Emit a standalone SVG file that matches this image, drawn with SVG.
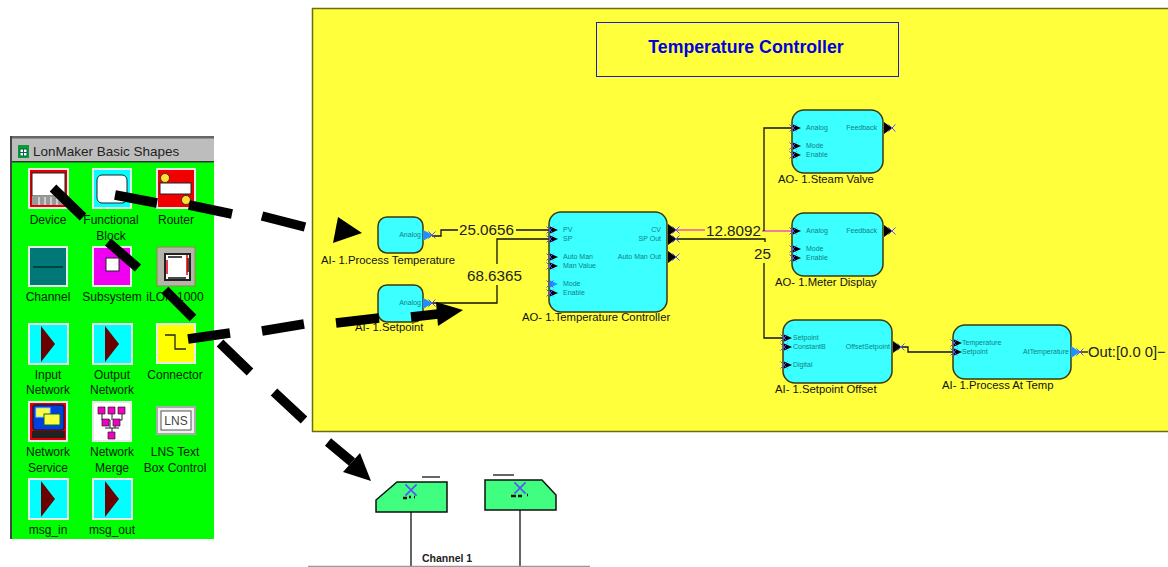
<svg xmlns="http://www.w3.org/2000/svg" xmlns:xlink="http://www.w3.org/1999/xlink" width="1168" height="567" viewBox="0 0 1168 567">
<style>
text{font-family:"Liberation Sans",Arial,sans-serif}
.pal{font-size:12px;fill:#062006;text-anchor:middle}
.fb{fill:#3cffff;stroke:#3a3a10;stroke-width:1.5}
.cap{font-size:11.300px;fill:#111}
.p{font-size:7px;fill:#0d7f86}
.pr{font-size:7px;fill:#0d7f86;text-anchor:end}
.val{font-size:15.200px;fill:#222}
.w{fill:none;stroke:#111;stroke-width:1.3}
.pk{fill:none;stroke:#f050c0;stroke-width:1.3}
.d{fill:none;stroke:#000;stroke-width:9.5}
.ic{stroke:#e8e8e8;stroke-width:2}
.x{fill:none;stroke:#5a50ff;stroke-width:1}
.dev{fill:#40ff80;stroke:#111;stroke-width:1.5}
.tri{fill:#6b0000}
</style>
<defs>
<g id="xm"><path class="x" d="M-3.500-3.500 3.500 3.500M3.500-3.500-3.500 3.500"/></g>
<g id="inp"><path d="M0-3.500 8 0 0 3.500z" fill="#000"/><use xlink:href="#xm"/></g>
<g id="inb"><path d="M0-3.500 8 0 0 3.500z" fill="#1e90ff"/><use xlink:href="#xm"/></g>
<g id="out"><path d="M-8-6 0 0-8 6z" fill="#000"/><use xlink:href="#xm"/></g>
<g id="outb"><path d="M-9-6 0 0-9 6z" fill="#1e90ff"/><use xlink:href="#xm"/></g>
<g id="net"><rect class="ic" x="0" y="0" width="39" height="40" fill="#00ffff"/><path class="tri" d="M12 2 26 20 12 38z"/></g>
</defs>

<g id="palette">
<rect x="10" y="136" width="204" height="403" fill="#fff"/>
<rect x="10" y="136" width="204" height="26" fill="#bdbdbd"/>
<rect x="10" y="136" width="204" height="2.500" fill="#666"/>
<rect x="12" y="162" width="202" height="377" fill="#00ff00"/>
<rect x="10" y="136" width="2" height="403" fill="#444"/>
<rect x="12" y="161" width="202" height="1.500" fill="#333"/>
<rect x="18" y="145" width="11" height="13" fill="#0a9a3a"/><path d="M20 149h7v7h-7zM23.500 149v7M20 152.500h7" fill="#fff" stroke="#064" stroke-width="1"/>
<text x="33" y="156" font-size="13.500" fill="#222">LonMaker Basic Shapes</text>
</g>

<g id="shape-device"><rect class="ic" x="29" y="169" width="39" height="39" fill="#e00000"/><rect x="32" y="173" width="33" height="23" fill="#fff" stroke="#222"/><rect x="32" y="196" width="33" height="9" fill="#999"/><path d="M39 197v8M45 197v8M51 197v8M57 197v8" stroke="#fff"/><text class="pal" x="48" y="224">Device</text></g>
<g id="shape-functional-block"><rect class="ic" x="93" y="169" width="38" height="39" fill="#00ffff"/><rect x="97" y="175" width="30" height="28" rx="5" fill="#fff" stroke="#222"/><text class="pal" x="111" y="224">Functional</text><text class="pal" x="111" y="240">Block</text></g>
<g id="shape-router"><rect class="ic" x="157" y="169" width="38" height="39" fill="#f00000"/><rect x="160" y="183" width="31" height="11" fill="#fff" stroke="#222"/><circle cx="165" cy="178" r="4.500" fill="#ffe030" stroke="#222" stroke-width=".8"/><circle cx="186" cy="200" r="4.500" fill="#ffe030" stroke="#222" stroke-width=".8"/><text class="pal" x="176" y="224">Router</text></g>
<g id="shape-channel"><rect class="ic" x="29" y="247" width="38" height="39" fill="#007878"/><path d="M33 267h30" stroke="#033" stroke-width="1.500"/><text class="pal" x="48" y="301">Channel</text></g>
<g id="shape-subsystem"><rect class="ic" x="93" y="247" width="38" height="39" fill="#f000f0"/><rect x="106" y="258" width="13" height="13" fill="#fff" stroke="#222"/><text class="pal" x="112" y="301">Subsystem</text></g>
<g id="shape-ilon"><rect x="157" y="247" width="38" height="39" fill="#b4b4a8" stroke="#8a8a50"/><rect x="165" y="254" width="25" height="26" fill="#fff" stroke="#222" stroke-width="2"/><path d="M168 257h14M188 258v14M168 278h18" stroke="#111" stroke-width="1.500"/><path d="M167 260v14M187 255v20" stroke="#e00000" stroke-width="1.500"/><text class="pal" x="175" y="301">iLON 1000</text></g>

<g id="shape-input-network"><use xlink:href="#net" x="29" y="324"/><text class="pal" x="48" y="379">Input</text><text class="pal" x="48" y="394">Network</text></g>
<g id="shape-output-network"><use xlink:href="#net" x="93" y="324"/><text class="pal" x="112" y="379">Output</text><text class="pal" x="112" y="394">Network</text></g>
<g id="shape-connector"><rect class="ic" x="157" y="324" width="38" height="39" fill="#ffff00"/><path d="M165 335h10v14h11" fill="none" stroke="#222" stroke-width="1.300"/><text class="pal" x="175" y="379">Connector</text></g>

<g id="shape-network-service"><rect class="ic" x="29" y="402" width="38" height="39" fill="#e00000"/><rect x="33" y="405" width="31" height="25" rx="2" fill="#0040e0" stroke="#111"/><rect x="36" y="408" width="14" height="9" fill="#ffff40" stroke="#9cf"/><rect x="44" y="414" width="16" height="11" fill="#ffff40" stroke="#063"/><rect x="32" y="431" width="33" height="7" fill="#222"/><text class="pal" x="48" y="456">Network</text><text class="pal" x="48" y="472">Service</text></g>
<g id="shape-network-merge"><rect class="ic" x="93" y="402" width="38" height="39" fill="#fff"/><path d="M102 412v8h8v8M112 412v8M122 412v8h-7v8M112 428v10M105 428h14" fill="none" stroke="#222"/><path d="M98 407h7v7h-7zM108 407h7v7h-7zM118 407h7v7h-7zM102 419h7v7h-7zM113 419h7v7h-7zM108 432h7v7h-7z" fill="#f000c0" stroke="#222" stroke-width=".7"/><text class="pal" x="112" y="456">Network</text><text class="pal" x="112" y="472">Merge</text></g>
<g id="shape-lns"><rect x="157" y="407" width="38" height="27" fill="#eee" stroke="#aaa" stroke-width="2"/><rect x="161" y="411" width="30" height="19" fill="#fff" stroke="#555"/><text x="176" y="425" font-size="12" fill="#444" text-anchor="middle">LNS</text><text class="pal" x="175" y="456">LNS Text</text><text class="pal" x="175" y="472">Box Control</text></g>
<g id="shape-msg-in"><use xlink:href="#net" x="29" y="479"/><text class="pal" x="48" y="534">msg_in</text></g>
<g id="shape-msg-out"><use xlink:href="#net" x="93" y="479"/><text class="pal" x="112" y="534">msg_out</text></g>

<g id="canvas">
<rect x="312.500" y="8.500" width="860" height="423" fill="#ffff3c" stroke="#6b6b10" stroke-width="1.500"/>
</g>
<g id="title"><rect x="596.500" y="22.500" width="302" height="54" fill="none" stroke="#1a1ad0"/><text x="746" y="53" font-size="17.700" font-weight="700" fill="#0000e0" text-anchor="middle">Temperature Controller</text></g>

<g id="connectors">
<path class="w" d="M432 236h9v-6h17M516 230h33"/>
<path class="w" d="M432 303h65v-18M497 264v-25h52"/>
<path class="pk" d="M677 230h28M762 231h30"/>
<path class="w" d="M677 239h88v3M764 231V128h28M764 263v75h19"/>
<path class="w" d="M900 347h8v5h45" stroke="#444"/>
<path class="w" d="M1081 352h7"/>
</g>
<g id="connector-labels">
<text class="val" x="459" y="235">25.0656</text>
<text class="val" x="467" y="281">68.6365</text>
<text class="val" x="706" y="236">12.8092</text>
<text class="val" x="754" y="259">25</text>
<text class="val" x="1088" y="357" style="font-size:14.800px">Out:[0.0 0]−</text>
</g>

<g id="node-process-temperature"><rect class="fb" x="378" y="217" width="45" height="36" rx="9"/><text class="pr" x="421" y="237">Analog</text><path d="M423 230 433 235 423 241z" fill="#1e90ff"/><use xlink:href="#xm" x="432" y="235"/><text class="cap" x="321" y="264">AI- 1.Process Temperature</text></g>
<g id="node-setpoint"><rect class="fb" x="378" y="285" width="45" height="37" rx="9"/><text class="pr" x="421" y="305">Analog</text><path d="M423 298 433 303 423 309z" fill="#1e90ff"/><use xlink:href="#xm" x="432" y="303"/><text class="cap" x="355" y="331">AI- 1.Setpoint</text></g>

<g id="node-temperature-controller"><rect class="fb" x="549" y="212" width="118" height="100" rx="12"/>
<use xlink:href="#inp" x="550" y="230"/><use xlink:href="#inp" x="550" y="239"/><use xlink:href="#inp" x="550" y="257"/><use xlink:href="#inp" x="550" y="266"/><use xlink:href="#inb" x="550" y="284"/><use xlink:href="#inp" x="550" y="293"/>
<text class="p" x="563" y="232">PV</text><text class="p" x="563" y="241">SP</text><text class="p" x="563" y="259">Auto Man</text><text class="p" x="563" y="268">Man Value</text><text class="p" x="563" y="286">Mode</text><text class="p" x="563" y="295">Enable</text>
<text class="pr" x="661" y="232">CV</text><text class="pr" x="661" y="241">SP Out</text><text class="pr" x="661" y="259">Auto Man Out</text>
<use xlink:href="#out" x="676" y="230"/><use xlink:href="#out" x="676" y="239"/><use xlink:href="#out" x="676" y="257"/>
<text class="cap" x="522" y="321">AO- 1.Temperature Controller</text></g>

<g id="node-steam-valve"><rect class="fb" x="792" y="110" width="91" height="63" rx="12"/>
<use xlink:href="#inp" x="793" y="128"/><use xlink:href="#inp" x="793" y="146"/><use xlink:href="#inp" x="793" y="155"/>
<text class="p" x="806" y="130">Analog</text><text class="p" x="806" y="148">Mode</text><text class="p" x="806" y="157">Enable</text><text class="pr" x="877" y="130">Feedback</text><use xlink:href="#out" x="892" y="128"/>
<text class="cap" x="778" y="183">AO- 1.Steam Valve</text></g>

<g id="node-meter-display"><rect class="fb" x="792" y="213" width="91" height="63" rx="12"/>
<use xlink:href="#inp" x="793" y="231"/><use xlink:href="#inp" x="793" y="249"/><use xlink:href="#inp" x="793" y="258"/>
<text class="p" x="806" y="233">Analog</text><text class="p" x="806" y="251">Mode</text><text class="p" x="806" y="260">Enable</text><text class="pr" x="877" y="233">Feedback</text><use xlink:href="#out" x="892" y="231"/>
<text class="cap" x="775" y="286">AO- 1.Meter Display</text></g>

<g id="node-setpoint-offset"><rect class="fb" x="783" y="320" width="109" height="63" rx="12"/>
<use xlink:href="#inp" x="784" y="338"/><use xlink:href="#inp" x="784" y="347"/><use xlink:href="#inp" x="784" y="365"/>
<text class="p" x="793" y="340">Setpoint</text><text class="p" x="793" y="349">ConstantB</text><text class="p" x="793" y="367">Digital</text><text class="pr" x="890" y="349">OffsetSetpoint</text><use xlink:href="#out" x="901" y="347"/>
<text class="cap" x="775" y="393">AI- 1.Setpoint Offset</text></g>

<g id="node-process-at-temp"><rect class="fb" x="953" y="325" width="118" height="54" rx="12"/>
<use xlink:href="#inp" x="954" y="343"/><use xlink:href="#inp" x="954" y="352"/>
<text class="p" x="962" y="345">Temperature</text><text class="p" x="962" y="354">Setpoint</text><text class="pr" x="1069" y="354">AtTemperature</text><use xlink:href="#outb" x="1080" y="352"/>
<text class="cap" x="942" y="389">AI- 1.Process At Temp</text></g>

<g id="node-device-1"><path d="M422 477h18" stroke="#666" stroke-width="2"/><path class="w" d="M411 512v55"/><path class="dev" d="M376 512V500L397 482H447V512Z"/><use xlink:href="#xm" transform="translate(411 490) scale(1.600)"/><path d="M403 498h4M409 497h2M414 497h1" stroke="#111" stroke-width="2.500"/></g>
<g id="node-device-2"><path d="M493 475h21" stroke="#666" stroke-width="2"/><path class="w" d="M520 510v57"/><path class="dev" d="M485 480H542L556 495V510H485Z"/><use xlink:href="#xm" transform="translate(520 488) scale(1.600)"/><path d="M511 496h5M518 496h4M527 495h1" stroke="#111" stroke-width="2.500"/></g>
<g id="channel"><path d="M308 566.500H590" stroke="#999" stroke-width="1.500"/><text x="422" y="562" font-size="10.500" font-weight="700" fill="#222">Channel 1</text></g>

<g id="block-arrows">
<path class="d" d="M115 195 157 203M189 205 232 214M262 216 305 227"/>
<path d="M338 217 362 233 333 243Z"/>
<path class="d" d="M188 339 230 333M262 331 304 324M336 323 379 318M411 317 438 314"/>
<path d="M436 302 463 310 438 326Z"/>
<path class="d" d="M53 188 83 217M108 242 138 268M165 290 193 318M220 343 250 372M274 392 304 420M328 442 352 462"/>
<path d="M360 453 343 472 371 481Z"/>
</g>
</svg>
